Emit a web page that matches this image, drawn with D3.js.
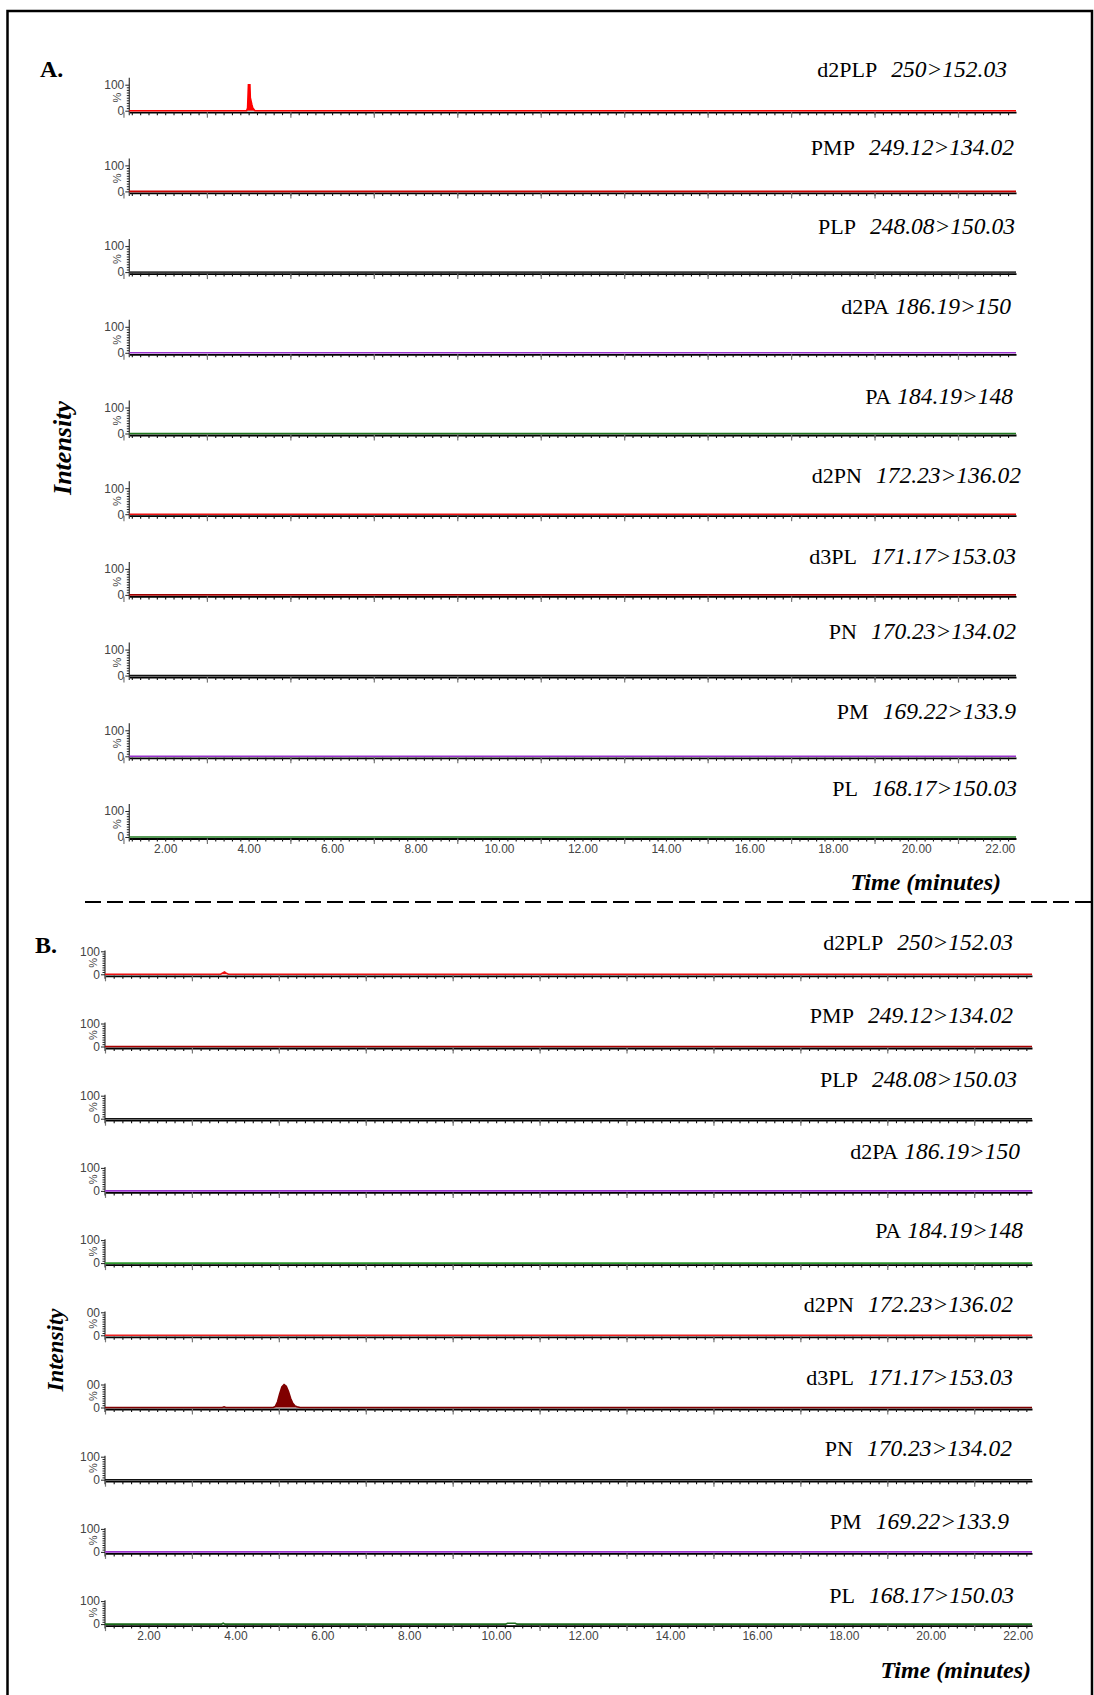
<!DOCTYPE html>
<head>
  <meta charset="utf-8">
  <title>MRM chromatograms</title>
  <style>
    body { margin: 0; background: #fff; }
    svg { display: block; }
    .tk text { font-family: "Liberation Sans", Arial, sans-serif; fill: #333; }
    .serif { font-family: "Times New Roman", "Liberation Serif", serif; fill: #000; }
  </style>
</head>

<body>
  <div id="chart"></div>

  <script src="https://d3js.org/d3.v7.min.js"></script>
  <script type="text/javascript">

    // analytes and MRM transitions, top trace to bottom trace (same in A and B)
    var analytes = ["d2PLP", "PMP", "PLP", "d2PA", "PA", "d2PN", "d3PL", "PN", "PM", "PL"];
    var transitions = ["250>152.03", "249.12>134.02", "248.08>150.03", "186.19>150", "184.19>148",
                       "172.23>136.02", "171.17>153.03", "170.23>134.02", "169.22>133.9", "168.17>150.03"];

    var colorsA = ["#ff0000", "#cc0000", "#3a3a3a", "#9933cc", "#1f7a1f",
                   "#ee1111", "#a00000", "#111111", "#9933cc", "#1f7a1f"];
    var colorsB = ["#ee1111", "#aa0000", "#111111", "#9933cc", "#2f9a2f",
                   "#ee2222", "#800000", "#111111", "#9933cc", "#1a6a1a"];

    var xLabelTicks = [2, 4, 6, 8, 10, 12, 14, 16, 18, 20, 22];
    var yTopLabelsA = ["100", "100", "100", "100", "100", "100", "100", "100", "100", "100"];
    var yTopLabelsB = ["100", "100", "100", "100", "100", "00", "00", "100", "100", "100"];

    // peaks: [time (min), % of max]
    var peakA_d2PLP = [[3.95, 0], [3.975, 10], [3.995, 100], [4.03, 100], [4.04, 50], [4.075, 25], [4.10, 10], [4.15, 0]];
    var peakB_d2PLP = [[3.66, 0], [3.71, 6], [3.75, 10], [3.79, 5], [3.84, 0]];
    var peakB_d3PL_small = [[3.70, 0], [3.74, 3], [3.78, 0]];
    var peakB_d3PL = [[4.87, 0], [4.92, 5], [4.97, 25], [5.02, 60], [5.07, 90], [5.12, 100], [5.17, 92],
                      [5.22, 70], [5.27, 40], [5.32, 18], [5.37, 7], [5.42, 3], [5.49, 0]];
    var peakB_PL_1 = [[3.68, 0], [3.72, 4], [3.76, 0]];
    var peakB_PL_2 = [[10.22, 0], [10.26, 4], [10.44, 4], [10.48, 0]];

    var peaksA = { 0: [peakA_d2PLP] };
    var peaksB = { 0: [peakB_d2PLP], 6: [peakB_d3PL_small, peakB_d3PL], 9: [peakB_PL_1, peakB_PL_2] };

    // layout of the two panels
    var panels = [
      { tag: "A.", tagX: 40, tagY: 77, colors: colorsA, yTop: yTopLabelsA, peaks: peaksA,
        domain: [1.14, 22.39], x0: 129.3, x1: 1016, base0: 110.7, step: 80.7, h: 26, axisTop: 127,
        nameX: [1007, 1014, 1015, 1011, 1013, 1021, 1016, 1016, 1016, 1017],
        nameDy: [34, 36, 38.5, 38.5, 30, 31, 31, 37, 37, 41],
        intX: 71, intY: 448, intSize: 26, timeX: 1001, timeY: 890 },
      { tag: "B.", tagX: 35, tagY: 953, colors: colorsB, yTop: yTopLabelsB, peaks: peaksB,
        domain: [1.0, 22.33], x0: 105, x1: 1032, base0: 974.3, step: 72.2, h: 23, axisTop: 104,
        nameX: [1013, 1013, 1017, 1020, 1023, 1013, 1013, 1012, 1009, 1014],
        nameDy: [24, 24, 32, 32, 25, 23, 23, 24, 23, 21],
        intX: 63, intY: 1350, intSize: 23, timeX: 1031, timeY: 1678 }
    ];

    var W = 1094, H = 1695;
    var svg = d3.select("#chart").append("svg")
        .attr("width", W)
        .attr("height", H);

    // frame + separator
    svg.append("path")
        .attr("d", "M7.5," + H + "V11H1092V" + H)
        .attr("fill", "none")
        .attr("stroke", "#000")
        .attr("stroke-width", 2.5);
    svg.append("line")
        .attr("x1", 85).attr("x2", W)
        .attr("y1", 902).attr("y2", 902)
        .attr("stroke", "#000")
        .attr("stroke-width", 2)
        .attr("stroke-dasharray", "16,6");

    var minorTicks = d3.range(5, 113).map(function (i) { return i / 5; });
    var oddTicks = d3.range(1, 23, 2);

    panels.forEach(function (p) {
        var x = d3.scaleLinear().domain(p.domain).range([p.x0, p.x1]);
        var y = d3.scaleLinear().domain([0, 100]).range([0, -p.h]);
        var g = svg.append("g");

        g.append("text").attr("class", "serif")
            .attr("x", p.tagX).attr("y", p.tagY)
            .style("font-size", "24px").style("font-weight", "bold")
            .text(p.tag);

        g.append("text").attr("class", "serif")
            .attr("transform", "translate(" + p.intX + "," + p.intY + ") rotate(-90)")
            .attr("text-anchor", "middle")
            .style("font-size", p.intSize + "px").style("font-weight", "bold").style("font-style", "italic")
            .text("Intensity");

        g.append("text").attr("class", "serif")
            .attr("x", p.timeX).attr("y", p.timeY)
            .attr("text-anchor", "end")
            .style("font-size", "24px").style("font-weight", "bold").style("font-style", "italic")
            .text("Time (minutes)");

        analytes.forEach(function (name, i) {
            var base = p.base0 + i * p.step;
            var row = g.append("g").attr("transform", "translate(0," + base + ")");
            var col = p.colors[i];

            // label
            var t = row.append("text").attr("class", "serif")
                .attr("x", p.nameX[i]).attr("y", -p.nameDy[i])
                .attr("text-anchor", "end")
                .style("font-size", "22px");
            t.append("tspan").text(name);
            t.append("tspan")
                .attr("dx", (name === "d2PA" || name === "PA") ? 6 : 14)
                .style("font-style", "italic").style("font-size", "23.5px")
                .text(transitions[i]);

            // x axis: minor ticks, longer grey ticks on odd minutes
            var ax = row.append("g").attr("class", "tk").attr("transform", "translate(0,1.5)")
                .call(d3.axisBottom(x)
                    .tickValues(minorTicks.filter(function (v) { return v > p.domain[0] && v < p.domain[1]; }))
                    .tickSize(3).tickSizeOuter(0).tickFormat(""));
            ax.select(".domain").attr("stroke", "#000").attr("stroke-width", 1.8);
            ax.selectAll(".tick line").attr("stroke", "#111").attr("stroke-width", 1.1);

            var ax2 = row.append("g").attr("class", "tk").attr("transform", "translate(0,1.5)")
                .call(d3.axisBottom(x).tickValues(oddTicks).tickSize(5.5).tickFormat(""));
            ax2.select(".domain").remove();
            ax2.selectAll(".tick line").attr("stroke", "#777").attr("stroke-width", 1.2);

            if (i === analytes.length - 1) {
                var ax3 = row.append("g").attr("class", "tk").attr("transform", "translate(0,1.5)")
                    .call(d3.axisBottom(x).tickValues(xLabelTicks).tickSize(0).tickPadding(6)
                        .tickFormat(d3.format(".2f")));
                ax3.select(".domain").remove();
                ax3.selectAll("text").style("font-size", "12px").style("fill", "#444");
            }

            // y axis
            row.append("line")
                .attr("x1", p.x0).attr("x2", p.x0)
                .attr("y1", y(0) + 4.5).attr("y2", y(p.axisTop))
                .attr("stroke", "#444").attr("stroke-width", 1.3);
            var ay = row.append("g").attr("class", "tk").attr("transform", "translate(" + p.x0 + ",0)")
                .call(d3.axisLeft(y).tickValues([0, 100]).tickSize(4).tickPadding(1)
                    .tickFormat(function (d) { return d === 100 ? p.yTop[i] : "0"; }));
            ay.select(".domain").remove();
            ay.selectAll(".tick line").attr("stroke", "#222");
            ay.selectAll("text").style("font-size", "12px").style("fill", "#444");
            var ay2 = row.append("g").attr("class", "tk").attr("transform", "translate(" + p.x0 + ",0)")
                .call(d3.axisLeft(y).tickValues(d3.range(10, 100, 10)).tickSize(2.5).tickFormat(""));
            ay2.select(".domain").remove();
            ay2.selectAll(".tick line").attr("stroke", "#222");
            row.append("text")
                .attr("transform", "translate(" + (p.x0 - 8) + "," + y(50) + ") rotate(-90)")
                .attr("text-anchor", "middle")
                .style("font-family", "Liberation Sans, Arial, sans-serif")
                .style("font-size", "11px").style("fill", "#444")
                .text("%");

            // trace
            var trace = [[p.domain[0], 0]];
            (p.peaks[i] || []).forEach(function (pk) { trace = trace.concat(pk); });
            trace.push([p.domain[1], 0]);

            row.append("path").datum(trace)
                .attr("fill", col)
                .attr("d", d3.area().x(function (d) { return x(d[0]); }).y0(0).y1(function (d) { return y(d[1]); }));
            row.append("path").datum(trace)
                .attr("fill", "none").attr("stroke", col).attr("stroke-width", 1.6)
                .attr("d", d3.line().x(function (d) { return x(d[0]); }).y(function (d) { return y(d[1]); }));
        });
    });

  </script>
</body>
